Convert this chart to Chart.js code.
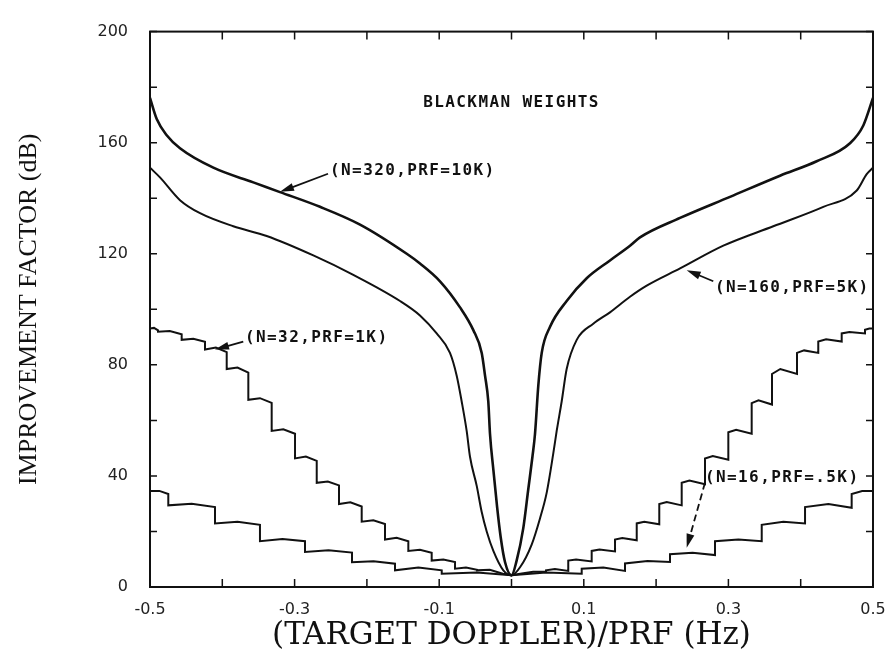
<!DOCTYPE html>
<html lang="en">
<head>
    <meta charset="UTF-8">
    <title>Blackman Weights - Improvement Factor</title>
    <script src="https://cdn.jsdelivr.net/npm/chart.js"></script>
    <style>
        body { margin: 0; background: #fff; }
    </style>
</head>
<body>
    <canvas id="ifChart" width="891" height="661"></canvas>

    <script>
        // Doppler / PRF (x) and improvement factor in dB (y)
        const n320Doppler = [-0.5, -0.4907, -0.4769, -0.4585, -0.4124, -0.3571, -0.3202, -0.2649, -0.2095, -0.1449, -0.1266, -0.0989, -0.0712, -0.0528, -0.0412, -0.0366, -0.0321, -0.0297, -0.0250, -0.0200, -0.0150, -0.0090, 0,
            0.0071, 0.0163, 0.0232, 0.0290, 0.0325, 0.0371, 0.0418, 0.0533, 0.0763, 0.1040, 0.1362, 0.1639, 0.1777, 0.2331, 0.3022, 0.3714, 0.4221, 0.4682, 0.4866, 0.5];
        const n320Db = [176.1, 168.5, 162.7, 158.0, 151.0, 145.7, 142.2, 136.9, 130.5, 120.0, 116.5, 110.1, 100.7, 92.5, 84.3, 76.1, 66.8, 55.0, 42.0, 29.0, 18.0, 9.0, 4.2,
            9.5, 21.2, 35.2, 47.0, 55.1, 72.6, 84.3, 93.7, 103.0, 111.2, 117.6, 122.9, 125.9, 132.9, 140.5, 148.1, 153.3, 159.8, 166.2, 176.1];

        const n160Doppler = [-0.5, -0.4862, -0.4585, -0.4308, -0.3848, -0.3386, -0.2741, -0.2188, -0.1542, -0.1266, -0.1035, -0.0851, -0.0758, -0.0689, -0.0620, -0.0574, -0.0481, -0.0412, -0.0343, -0.0251, -0.0113, 0,
            0.0118, 0.0279, 0.0394, 0.0487, 0.0578, 0.0625, 0.0694, 0.0763, 0.0902, 0.1131, 0.1362, 0.1639, 0.1870, 0.2331, 0.2930, 0.3621, 0.4313, 0.4775, 0.4913, 0.5];
        const n160Db = [151.0, 147.5, 139.3, 134.6, 129.9, 126.4, 119.4, 112.4, 103.0, 97.8, 91.3, 84.3, 76.1, 66.8, 56.2, 46.9, 36.4, 27.0, 20.0, 13.0, 6.0, 4.2,
            7.1, 15.3, 24.7, 34.0, 48.1, 56.2, 66.8, 78.5, 89.0, 94.8, 98.9, 104.5, 108.5, 114.7, 122.9, 129.9, 136.9, 142.8, 148.7, 151.0];

        const n32Doppler = [
            -0.5, -0.4945, -0.4889, -0.4889, -0.4726, -0.4562, -0.4562, -0.4401, -0.4239, -0.4239, -0.4089, -0.3939,
            -0.3939, -0.3790, -0.3640, -0.3640, -0.3479, -0.3317, -0.3317, -0.3156, -0.2994, -0.2994, -0.2844, -0.2694,
            -0.2694, -0.2540, -0.2386, -0.2386, -0.2229, -0.2072, -0.2072, -0.1911, -0.1750, -0.1750, -0.1589, -0.1427,
            -0.1427, -0.1266, -0.1104, -0.1104, -0.0943, -0.0781, -0.0781, -0.0629, -0.0477, -0.0477, -0.0300, -0.0120, 0,
            0.0120, 0.0300, 0.0477, 0.0477, 0.0600, 0.0785, 0.0785, 0.0893, 0.1109, 0.1109, 0.1217, 0.1432,
            0.1432, 0.1532, 0.1732, 0.1732, 0.1836, 0.2044, 0.2044, 0.2147, 0.2354, 0.2354, 0.2461, 0.2676,
            0.2676, 0.2784, 0.2999, 0.2999, 0.3107, 0.3322, 0.3322, 0.3416, 0.3603, 0.3603, 0.3718, 0.3949,
            0.3949, 0.4047, 0.4243, 0.4243, 0.4351, 0.4567, 0.4567, 0.4674, 0.4889, 0.4889, 0.4950, 0.5];
        const n32Db = [
            93.1, 93.3, 92.4, 91.9, 92.2, 91.0, 89.0, 89.4, 88.3, 85.5, 86.2, 84.6,
            78.5, 79.0, 77.2, 67.4, 68.0, 66.3, 56.2, 56.8, 55.2, 46.3, 47.0, 45.4,
            37.5, 38.0, 36.6, 29.9, 30.5, 29.0, 23.5, 24.0, 22.7, 17.1, 17.7, 16.5,
            13.0, 13.4, 12.3, 9.5, 9.9, 9.0, 6.6, 7.0, 6.2, 6.0, 6.2, 4.8, 4.2,
            4.8, 5.5, 5.5, 6.0, 6.5, 5.8, 9.5, 9.9, 9.2, 13.0, 13.5, 12.8,
            17.1, 17.6, 16.8, 22.9, 23.5, 22.6, 29.9, 30.6, 29.4, 37.5, 38.3, 37.0,
            46.3, 47.2, 45.8, 55.7, 56.6, 55.2, 66.2, 67.2, 65.7, 76.7, 78.5, 76.7,
            84.3, 85.2, 84.3, 88.4, 89.2, 88.4, 91.3, 91.8, 91.3, 92.6, 93.1, 93.1];

        const n16Doppler = [
            -0.5, -0.4870, -0.4747, -0.4747, -0.4424, -0.4101, -0.4101, -0.3790, -0.3479, -0.3479, -0.3168, -0.2856,
            -0.2856, -0.2531, -0.2206, -0.2206, -0.1909, -0.1611, -0.1611, -0.1288, -0.0965, -0.0965, -0.0480, 0,
            0.0480, 0.0971, 0.0971, 0.1270, 0.1570, 0.1570, 0.1881, 0.2192, 0.2192, 0.2504, 0.2815,
            0.2815, 0.3138, 0.3461, 0.3461, 0.3760, 0.4060, 0.4060, 0.4383, 0.4705, 0.4705, 0.4850, 0.5];
        const n16Db = [
            34.6, 34.6, 33.5, 29.4, 30.0, 28.8, 22.9, 23.5, 22.4, 16.5, 17.3, 16.5,
            12.6, 13.2, 12.4, 8.9, 9.3, 8.4, 6.0, 7.0, 6.0, 4.8, 5.2, 4.2,
            5.2, 4.8, 6.6, 7.0, 5.8, 8.5, 9.4, 9.0, 11.8, 12.3, 11.5,
            16.5, 17.1, 16.5, 22.4, 23.5, 22.9, 28.8, 29.9, 28.5, 33.5, 34.6, 34.6];

        // Curve labels, placed in data units
        const labels = [
            { text: 'BLACKMAN WEIGHTS', x: 0.0, y: 174.4, align: 'center' },
            { text: '(N=320,PRF=10K)', x: -0.251, y: 149.8, align: 'left', arrow: [-0.2538, 148.8, -0.3202, 142.3] },
            { text: '(N=160,PRF=5K)', x: 0.2815, y: 107.7, align: 'left', arrow: [0.2791, 110.1, 0.2423, 114.1] },
            { text: '(N=32,PRF=1K)', x: -0.3686, y: 89.6, align: 'left', arrow: [-0.3710, 88.4, -0.4101, 85.5] },
            { text: '(N=16,PRF=.5K)', x: 0.2676, y: 39.3, align: 'left', arrow: [0.2676, 37.5, 0.2423, 14.1], dashed: true }
        ];

        const toPoints = (xs, ys) => xs.map((x, i) => ({ x: x, y: ys[i] }));

        // frame with inward tick marks on all four sides
        const framePlugin = {
            id: 'frame',
            afterDatasetsDraw(chart) {
                const { ctx, chartArea: a, scales: { x, y } } = chart;
                ctx.save();
                ctx.strokeStyle = '#111';
                ctx.lineWidth = 2;
                ctx.strokeRect(a.left, a.top, a.right - a.left, a.bottom - a.top);
                ctx.lineWidth = 1.5;
                ctx.beginPath();
                x.ticks.forEach(t => {
                    const px = x.getPixelForValue(t.value);
                    ctx.moveTo(px, a.bottom); ctx.lineTo(px, a.bottom - 8);
                    ctx.moveTo(px, a.top); ctx.lineTo(px, a.top + 8);
                });
                y.ticks.forEach(t => {
                    const py = y.getPixelForValue(t.value);
                    ctx.moveTo(a.left, py); ctx.lineTo(a.left + 7, py);
                    ctx.moveTo(a.right, py); ctx.lineTo(a.right - 7, py);
                });
                ctx.stroke();
                ctx.restore();
            }
        };

        const labelPlugin = {
            id: 'curveLabels',
            afterDatasetsDraw(chart) {
                const { ctx, scales: { x, y } } = chart;
                ctx.save();
                ctx.fillStyle = '#111';
                ctx.strokeStyle = '#111';
                ctx.font = 'bold 16px "DejaVu Sans Mono"';
                ctx.letterSpacing = '1.4px';
                ctx.textBaseline = 'middle';
                labels.forEach(l => {
                    ctx.textAlign = l.align;
                    ctx.fillText(l.text, x.getPixelForValue(l.x), y.getPixelForValue(l.y));
                    if (!l.arrow) return;
                    const x1 = x.getPixelForValue(l.arrow[0]), y1 = y.getPixelForValue(l.arrow[1]);
                    const x2 = x.getPixelForValue(l.arrow[2]), y2 = y.getPixelForValue(l.arrow[3]);
                    const ang = Math.atan2(y2 - y1, x2 - x1);
                    ctx.lineWidth = 1.8;
                    ctx.setLineDash(l.dashed ? [7, 4] : []);
                    ctx.beginPath();
                    ctx.moveTo(x1, y1);
                    ctx.lineTo(x2 - 10 * Math.cos(ang), y2 - 10 * Math.sin(ang));
                    ctx.stroke();
                    ctx.setLineDash([]);
                    // filled arrow head
                    ctx.beginPath();
                    ctx.moveTo(x2, y2);
                    ctx.lineTo(x2 - 14 * Math.cos(ang) + 4 * Math.sin(ang), y2 - 14 * Math.sin(ang) - 4 * Math.cos(ang));
                    ctx.lineTo(x2 - 14 * Math.cos(ang) - 4 * Math.sin(ang), y2 - 14 * Math.sin(ang) + 4 * Math.cos(ang));
                    ctx.closePath();
                    ctx.fill();
                });
                ctx.restore();
            }
        };

        const line = (label, xs, ys, width, smooth) => ({
            label: label,
            data: toPoints(xs, ys),
            borderColor: '#111',
            borderWidth: width,
            pointRadius: 0,
            fill: false,
            tension: 0,
            cubicInterpolationMode: smooth ? 'monotone' : 'default'
        });

        new Chart(document.getElementById('ifChart').getContext('2d'), {
            type: 'line',
            data: {
                datasets: [
                    line('N=320, PRF=10K', n320Doppler, n320Db, 2.6, true),
                    line('N=160, PRF=5K', n160Doppler, n160Db, 2, true),
                    line('N=32, PRF=1K', n32Doppler, n32Db, 2, false),
                    line('N=16, PRF=.5K', n16Doppler, n16Db, 2, false)
                ]
            },
            options: {
                responsive: false,
                animation: false,
                layout: { padding: { left: 0, right: 18, top: 17, bottom: 0 } },
                plugins: { legend: { display: false }, tooltip: { enabled: false } },
                scales: {
                    x: {
                        type: 'linear',
                        min: -0.5,
                        max: 0.5,
                        afterFit: s => { s.height = 74; s.paddingLeft = 0; s.paddingRight = 0; },
                        grid: { display: false, drawTicks: false },
                        border: { display: false },
                        ticks: {
                            stepSize: 0.1,
                            autoSkip: false,
                            maxRotation: 0,
                            padding: 13,
                            color: '#222',
                            font: { family: 'DejaVu Sans', size: 16 },
                            callback: v => (Math.abs(Math.round(v * 10)) % 2 === 1 ? v.toFixed(1) : '')
                        },
                        title: {
                            display: true,
                            text: '(TARGET DOPPLER)/PRF (Hz)',
                            color: '#111',
                            font: { family: 'DejaVu Serif', size: 31 },
                            padding: { top: 0, bottom: 6 }
                        }
                    },
                    y: {
                        min: 0,
                        max: 200,
                        afterFit: s => { s.width = 150; },
                        grid: { display: false, drawTicks: false },
                        border: { display: false },
                        ticks: {
                            stepSize: 20,
                            autoSkip: false,
                            padding: 22,
                            color: '#222',
                            font: { family: 'DejaVu Sans', size: 16 },
                            callback: v => (v % 40 === 0 ? v : '')
                        },
                        title: {
                            display: true,
                            text: 'IMPROVEMENT FACTOR (dB)',
                            color: '#111',
                            font: { family: 'Liberation Serif', size: 26 },
                            padding: { top: 14, bottom: 0 }
                        }
                    }
                }
            },
            plugins: [framePlugin, labelPlugin]
        });
    </script>
</body>
</html>
